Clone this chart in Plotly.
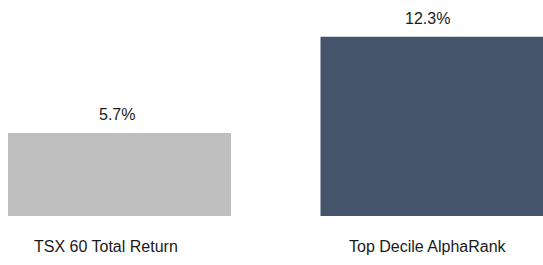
import plotly.graph_objects as go

categories = ["TSX 60 Total Return", "Top Decile AlphaRank"]
values = [5.7, 12.3]
labels = ["5.7%", "12.3%"]
colors = ["#bfbfbf", "#44546a"]

# small horizontal pixel nudges of the texts, as in the reference
value_label_nudge = [-2.5, -5]
category_label_nudge = [-14, -4]

xpos = list(range(len(categories)))
FONT = "Liberation Sans, Arial"
TXT = "#1a1a1a"

fig = go.Figure()
fig.add_trace(go.Bar(x=xpos, y=values, marker_color=colors, width=0.7136,
                     marker_line_width=0, hoverinfo="skip"))
for xp, v, t, dx in zip(xpos, values, labels, value_label_nudge):
    fig.add_annotation(x=xp, y=v, text=t, showarrow=False, yanchor="bottom",
                       yshift=8, xshift=dx, font=dict(family=FONT, size=16, color=TXT))
for xp, c, dx in zip(xpos, categories, category_label_nudge):
    fig.add_annotation(x=xp, y=0, text=c, showarrow=False, yanchor="top",
                       yshift=-20, xshift=dx, font=dict(family=FONT, size=16, color=TXT))

fig.update_layout(
    width=543, height=265,
    margin=dict(l=0, r=0, t=0, b=49),
    paper_bgcolor="white", plot_bgcolor="white",
    showlegend=False,
    font=dict(family=FONT, size=16, color=TXT),
)
fig.update_xaxes(range=[-0.3824, 1.3552], tickvals=xpos, showticklabels=False,
                 showgrid=False, zeroline=False, showline=False)
fig.update_yaxes(range=[0, 14.83], visible=False)
fig.write_html("out.html", config={"displayModeBar": False},
               post_script="document.body.style.margin='0';document.body.style.padding='0';")
